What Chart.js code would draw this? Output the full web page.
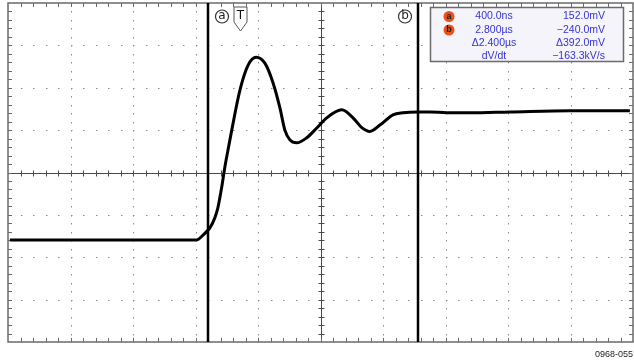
<!DOCTYPE html>
<html>
<head>
<meta charset="utf-8">
<script src="https://cdn.jsdelivr.net/npm/chart.js@4"></script>
<style>
  html, body { margin: 0; padding: 0; background: #fff; }
</style>
</head>
<body>
<canvas id="scope" width="634" height="360"></canvas>
<script>
// trace, in graticule divisions (x: 0..10, y: -4..4)
const timeDiv = [0.03, 1.47, 2.75, 3.02, 3.12, 3.2, 3.23, 3.31, 3.36, 3.42, 3.47, 3.52, 3.58, 3.71, 3.84, 3.97,
  4.11, 4.24, 4.35, 4.43, 4.51, 4.62, 4.78, 4.94, 5.1, 5.34, 5.52, 5.66, 5.79, 5.95, 6.16, 6.32, 6.56,
  6.75, 7.02, 7.39, 8.03, 8.99, 9.95];
const traceDiv = [-1.59, -1.59, -1.59, -1.59, -1.48, -1.36, -1.31, -1.07, -0.82, -0.34, 0.13, 0.53, 1.0, 1.94, 2.53, 2.72,
  2.58, 2.12, 1.53, 1.0, 0.77, 0.7, 0.82, 1.05, 1.29, 1.48, 1.29, 1.06, 0.97, 1.12, 1.36, 1.41, 1.43,
  1.43, 1.41, 1.41, 1.43, 1.46, 1.46];

const cursorPos = [3.2, 6.56];
const cursorNames = ['a', 'b'];
const triggerPos = 3.72;
const readoutLeft = ['400.0ns', '2.800µs', 'Δ2.400µs', 'dV/dt'];
const readoutRight = ['152.0mV', '−240.0mV', 'Δ392.0mV', '−163.3kV/s'];

const graticule = {
  id: 'graticule',
  beforeDatasetsDraw(chart) {
    const { ctx, chartArea: a, scales: { x, y } } = chart;
    ctx.save();

    // dotted division lines
    ctx.fillStyle = '#8c8c8c';
    for (let i = 1; i < 10; i++) {
      if (i === 5) continue;
      const px = Math.round(x.getPixelForValue(i));
      for (let j = 1; j < 40; j++) {
        const py = Math.round(y.getPixelForValue(-4 + j * 0.2));
        ctx.fillRect(px, py, 1, 1.5);
      }
    }
    for (let i = -3; i <= 3; i++) {
      if (i === 0) continue;
      const py = Math.round(y.getPixelForValue(i));
      for (let j = 1; j < 50; j++) {
        const px = Math.round(x.getPixelForValue(j * 0.2));
        ctx.fillRect(px, py, 1.5, 1);
      }
    }

    // center axes with minor ticks
    const cx = Math.round(x.getPixelForValue(5)) + 0.5;
    const cy = Math.round(y.getPixelForValue(0)) + 0.5;
    ctx.strokeStyle = '#4a4a4a';
    ctx.lineWidth = 1;
    ctx.beginPath();
    ctx.moveTo(cx, a.top); ctx.lineTo(cx, a.bottom);
    ctx.moveTo(a.left, cy); ctx.lineTo(a.right, cy);
    for (let j = 1; j < 50; j++) {
      const px = Math.round(x.getPixelForValue(j * 0.2)) + 0.5;
      ctx.moveTo(px, cy - 3); ctx.lineTo(px, cy + 3);
    }
    for (let j = 1; j < 40; j++) {
      const py = Math.round(y.getPixelForValue(-4 + j * 0.2)) + 0.5;
      ctx.moveTo(cx - 3, py); ctx.lineTo(cx + 3, py);
    }
    ctx.stroke();

    // border with inward ticks
    ctx.strokeStyle = '#6a6a6a';
    ctx.beginPath();
    for (let j = 1; j < 50; j++) {
      const px = Math.round(x.getPixelForValue(j * 0.2)) + 0.5;
      ctx.moveTo(px, a.top); ctx.lineTo(px, a.top + 4);
      ctx.moveTo(px, a.bottom); ctx.lineTo(px, a.bottom - 4);
    }
    for (let j = 1; j < 40; j++) {
      const py = Math.round(y.getPixelForValue(-4 + j * 0.2)) + 0.5;
      ctx.moveTo(a.left, py); ctx.lineTo(a.left + 4, py);
      ctx.moveTo(a.right, py); ctx.lineTo(a.right - 4, py);
    }
    ctx.stroke();
    ctx.lineWidth = 1.5;
    ctx.strokeRect(a.left, a.top, a.right - a.left, a.bottom - a.top);

    // cursors
    ctx.strokeStyle = '#000';
    ctx.lineWidth = 2.5;
    ctx.beginPath();
    cursorPos.forEach(v => {
      const px = x.getPixelForValue(v);
      ctx.moveTo(px, a.top); ctx.lineTo(px, a.bottom);
    });
    ctx.stroke();

    // cursor names (circled letters)
    ctx.lineWidth = 1.2;
    ctx.font = '12px "DejaVu Sans"';
    ctx.textAlign = 'center';
    ctx.textBaseline = 'middle';
    cursorPos.forEach((v, i) => {
      const px = x.getPixelForValue(v) + (i === 0 ? 14 : -13);
      const py = a.top + 13.5;
      ctx.strokeStyle = '#333';
      ctx.beginPath();
      ctx.arc(px, py, 6.5, 0, Math.PI * 2);
      ctx.stroke();
      ctx.fillStyle = '#222';
      ctx.fillText(cursorNames[i], px, py - 0.5);
    });

    // trigger marker
    const tx = x.getPixelForValue(triggerPos);
    ctx.strokeStyle = '#555';
    ctx.lineWidth = 1;
    ctx.fillStyle = '#fff';
    ctx.beginPath();
    ctx.moveTo(tx - 6.5, a.top + 4);
    ctx.lineTo(tx + 6.5, a.top + 4);
    ctx.lineTo(tx + 6.5, a.top + 19);
    ctx.lineTo(tx, a.top + 28);
    ctx.lineTo(tx - 6.5, a.top + 19);
    ctx.closePath();
    ctx.fill();
    ctx.stroke();
    ctx.fillStyle = '#111';
    ctx.font = '12px "DejaVu Sans"';
    ctx.fillText('T', tx, a.top + 12.5);

    ctx.restore();
  },
  afterDatasetsDraw(chart) {
    const { ctx } = chart;
    ctx.save();

    // readout box
    const bx = 430.5, by = 7.5, bw = 193, bh = 54;
    ctx.fillStyle = '#f6f4fb';
    ctx.fillRect(bx, by, bw, bh);
    ctx.strokeStyle = '#6a6a6a';
    ctx.lineWidth = 1.5;
    ctx.strokeRect(bx, by, bw, bh);

    const rows = [16.5, 30, 43.5, 56.5];
    ctx.textBaseline = 'middle';
    rows.forEach((ry, i) => {
      if (i < 2) {
        ctx.fillStyle = '#e8521c';
        ctx.beginPath();
        ctx.arc(449, ry, 5.5, 0, Math.PI * 2);
        ctx.fill();
        ctx.fillStyle = '#2a1a10';
        ctx.textAlign = 'center';
        ctx.font = 'bold 9px "Liberation Sans"';
        ctx.fillText(cursorNames[i], 449, ry);
      }
      ctx.font = '10.5px "Liberation Sans"';
      ctx.fillStyle = '#3434d0';
      ctx.textAlign = 'center';
      ctx.fillText(readoutLeft[i], 494, ry);
      ctx.textAlign = 'right';
      ctx.fillText(readoutRight[i], 605, ry);
    });

    // figure number
    ctx.fillStyle = '#222';
    ctx.font = '9px "Liberation Sans", Arial, sans-serif';
    ctx.textAlign = 'right';
    ctx.textBaseline = 'alphabetic';
    ctx.fillText('0968-055', 633, 357);

    ctx.restore();
  }
};

new Chart(document.getElementById('scope'), {
  type: 'line',
  data: {
    labels: timeDiv,
    datasets: [{
      data: timeDiv.map((t, i) => ({ x: t, y: traceDiv[i] })),
      borderColor: '#000',
      borderWidth: 3,
      pointRadius: 0,
      cubicInterpolationMode: 'monotone',
      fill: false
    }]
  },
  options: {
    responsive: false,
    animation: false,
    layout: { padding: { left: 8, right: 1, top: 3, bottom: 18 } },
    plugins: { legend: { display: false }, tooltip: { enabled: false } },
    scales: {
      x: { type: 'linear', min: 0, max: 10, display: false },
      y: { min: -4, max: 4, display: false }
    }
  },
  plugins: [graticule]
});
</script>
</body>
</html>
